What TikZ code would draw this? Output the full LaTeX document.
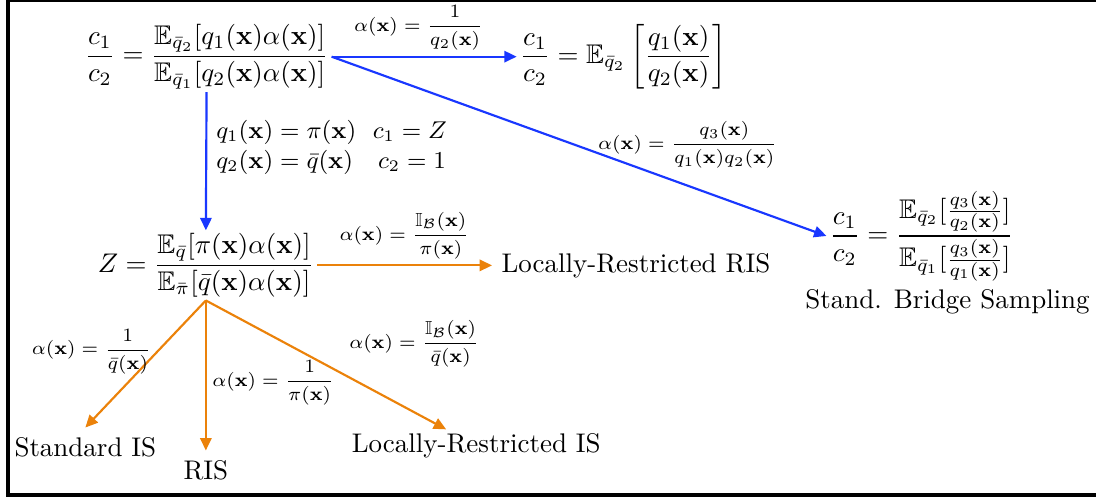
\documentclass[tikz,border=0pt]{standalone}
\usepackage{amsmath,amssymb}
\usetikzlibrary{arrows.meta}
\definecolor{refblue}{RGB}{25,55,255}
\definecolor{reforange}{RGB}{235,130,10}
\newcommand{\vx}{\mathbf{x}}

\begin{document}
\begin{tikzpicture}[scale=0.935,
    eq/.style={inner sep=1pt},
    lab/.style={font=\scriptsize, inner sep=2pt, text=black},
    blu/.style={thick, refblue, -{Triangle[length=4.6pt,width=4.2pt]}},
    org/.style={thick, reforange, -{Triangle[length=4.6pt,width=4.2pt]}}
]
\useasboundingbox (0,0) rectangle (15.28,-6.93);
\clip (0,0) rectangle (15.28,-6.93);
\draw[line width=1.2pt] (0.11,0) rectangle (15.45,-6.90);

% general ratio and its special cases
\node[eq] (top)    at (2.88,-0.79)  {$\displaystyle \frac{c_1}{c_2} = \frac{\mathbb{E}_{\bar{q}_2}[q_1(\vx)\alpha(\vx)]}{\mathbb{E}_{\bar{q}_1}[q_2(\vx)\alpha(\vx)]}$};
\node[eq] (topr)   at (8.69,-0.79)  {$\displaystyle \frac{c_1}{c_2} = \mathbb{E}_{\bar{q}_2}\left[\frac{q_1(\vx)}{q_2(\vx)}\right]$};
\node[eq] (bridge) at (12.85,-3.29) {$\displaystyle \frac{c_1}{c_2} = \frac{\mathbb{E}_{\bar{q}_2}[\frac{q_3(\vx)}{q_2(\vx)}]}{\mathbb{E}_{\bar{q}_1}[\frac{q_3(\vx)}{q_1(\vx)}]}$};
\node (bsname) at (13.21,-4.21) {Stand. Bridge Sampling};
\node[eq] (mid)    at (2.87,-3.70)  {$\displaystyle Z = \frac{\mathbb{E}_{\bar{q}}[\pi(\vx)\alpha(\vx)]}{\mathbb{E}_{\bar{\pi}}[\bar{q}(\vx)\alpha(\vx)]}$};
\node[anchor=west] (lrris) at (6.86,-3.70) {Locally-Restricted RIS};
\node (stdis) at (1.19,-6.23) {Standard IS};
\node (ris)   at (2.87,-6.55) {RIS};
\node (lris)  at (6.64,-6.21) {Locally-Restricted IS};

\draw[blu] (top.east) -- node[lab, midway, above, xshift=-2pt] {$\alpha(\vx) = \dfrac{1}{q_2(\vx)}$} (topr.west);
\draw[blu] (top.east) -- node[lab, pos=0.72, above=4pt] {$\alpha(\vx) = \dfrac{q_3(\vx)}{q_1(\vx)q_2(\vx)}$} (bridge.west);
\draw[blu] (top.south) -- node[pos=0.4, right, align=left, text=black, font=\small] {$q_1(\vx) = \pi(\vx)\ \ c_1 = Z$\\$q_2(\vx) = \bar{q}(\vx)\ \ \ c_2 = 1$} (mid.north);

\draw[org] (mid.east) -- node[lab, midway, above] {$\alpha(\vx) = \dfrac{\mathbb{I}_{\mathcal{B}}(\vx)}{\pi(\vx)}$} (lrris.west);
\draw[org] (mid.south) -- node[lab, pos=0.4, left] {$\alpha(\vx) = \dfrac{1}{\bar{q}(\vx)}$} (stdis.north);
\draw[org] (mid.south) -- node[lab, pos=0.55, right] {$\alpha(\vx) = \dfrac{1}{\pi(\vx)}$} (ris.north);
\draw[org] (mid.south) -- node[lab, pos=0.57, above right] {$\alpha(\vx) = \dfrac{\mathbb{I}_{\mathcal{B}}(\vx)}{\bar{q}(\vx)}$} ([xshift=-0.42cm,yshift=-0.08cm]lris.north);

\end{tikzpicture}
\end{document}
